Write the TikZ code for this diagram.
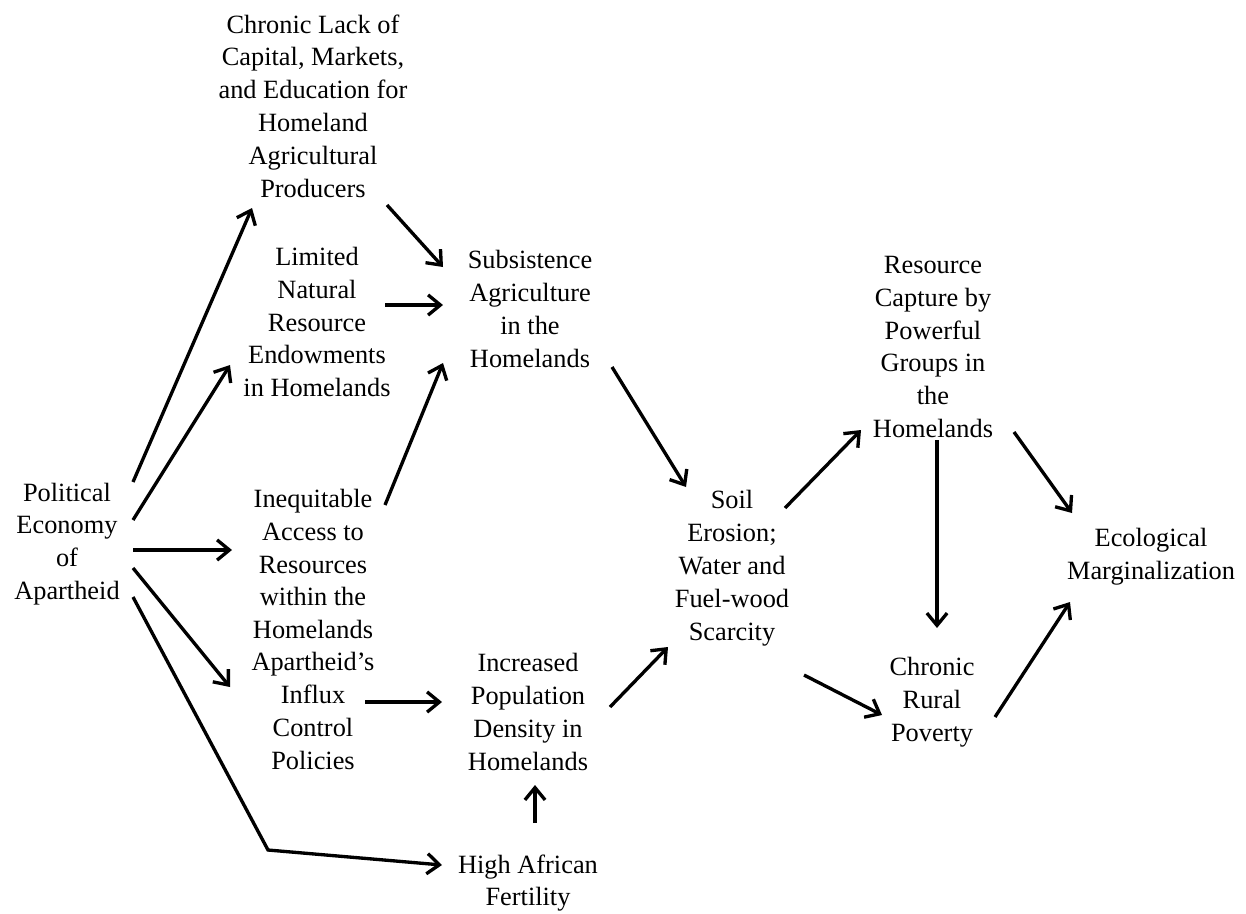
\documentclass[tikz,border=0pt]{standalone}
\usepackage{fontspec}
\setmainfont{Liberation Serif}
\usetikzlibrary{arrows.meta,calc}
\tikzset{
  box/.style={align=center,inner sep=0pt,font=\fontsize{15}{18.7}\selectfont},
  arr/.style={line width=1.9pt,-{Straight Barb[length=7pt,width=11.5pt]}}
}
\begin{document}
\begin{tikzpicture}[x=0.02cm,y=-0.02cm]
  \useasboundingbox (0,0) rectangle (1246,913);
  % causes
  \node[box] (pol) at (67,544) {Political\\Economy\\of\\Apartheid};
  \node[box] (lack) at (313,106) {Chronic Lack of\\Capital, Markets,\\and Education for\\Homeland\\Agricultural\\Producers};
  \node[box] (limited) at (317,322) {Limited\\Natural\\Resource\\Endowments\\in Homelands};
  \node[box] (ineq) at (313,564) {Inequitable\\Access to\\Resources\\within the\\Homelands};
  \node[box] (influx) at (313,711) {Apartheid's\\Influx\\Control\\Policies};
  \node[box] (subs) at (530,309) {Subsistence\\Agriculture\\in the\\Homelands};
  \node[box] (dens) at (528,712) {Increased\\Population\\Density in\\Homelands};
  \node[box] (fert) at (528,883) {High African\\Fertility};
  % effects
  \node[box] (soil) at (732,568) {Soil\\Erosion;\\Water and\\Fuel-wood\\Scarcity};
  \node[box] (capt) at (933,347) {Resource\\Capture by\\Powerful\\Groups in\\the\\Homelands};
  \node[box] (pov) at (932,702) {Chronic\\Rural\\Poverty};
  \node[box] (eco) at (1151,557) {Ecological\\Marginalization};
  \coordinate (bend) at (268,850);
  % connectors
  \draw[arr] ($(pol)+(66,-62)$) -- ($(lack)+(-61,102)$);
  \draw[arr] ($(pol)+(66,-24)$) -- ($(limited)+(-87,43)$);
  \draw[arr] ($(pol)+(66,6)$) -- ($(ineq)+(-81,-14)$);
  \draw[arr] ($(pol)+(66,24)$) -- ($(influx)+(-83,-24)$);
  \draw[arr] ($(pol)+(66,53)$) -- (bend) -- ($(fert)+(-86,-18)$);
  \draw[arr] ($(lack)+(74,99)$) -- ($(subs)+(-87,-42)$);
  \draw[arr] ($(limited)+(68,-17)$) -- ($(subs)+(-87,-4)$);
  \draw[arr] ($(ineq)+(72,-59)$) -- ($(subs)+(-87,54)$);
  \draw[arr] ($(influx)+(52,-9)$) -- ($(dens)+(-86,-10)$);
  \draw[arr] ($(fert)+(7,-60)$) -- ($(dens)+(7,73)$);
  \draw[arr] ($(subs)+(82,58)$) -- ($(soil)+(-46,-81)$);
  \draw[arr] ($(dens)+(82,-5)$) -- ($(soil)+(-64,79)$);
  \draw[arr] ($(soil)+(53,-60)$) -- ($(capt)+(-72,83)$);
  \draw[arr] ($(soil)+(72,107)$) -- ($(pov)+(-50,13)$);
  \draw[arr] ($(capt)+(4,93)$) -- ($(pov)+(5,-74)$);
  \draw[arr] ($(capt)+(81,85)$) -- ($(eco)+(-79,-44)$);
  \draw[arr] ($(pov)+(63,15)$) -- ($(eco)+(-81,45)$);
\end{tikzpicture}
\end{document}
